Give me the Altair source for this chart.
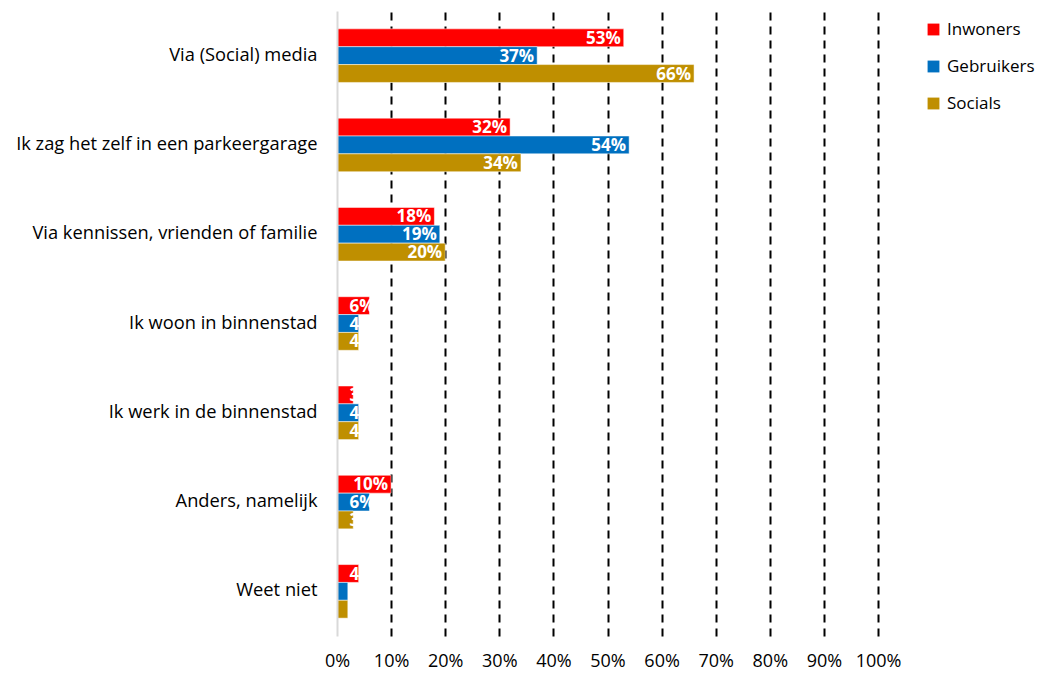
import altair as alt
import pandas as pd

categories = [
    "Via (Social) media",
    "Ik zag het zelf in een parkeergarage",
    "Via kennissen, vrienden of familie",
    "Ik woon in binnenstad",
    "Ik werk in de binnenstad",
    "Anders, namelijk",
    "Weet niet",
]
series = ["Inwoners", "Gebruikers", "Socials"]
inwoners = [53, 32, 18, 6, 3, 10, 4]
gebruikers = [37, 54, 19, 4, 4, 6, 2]
socials = [66, 34, 20, 4, 4, 3, 2]
colors = ["#FF0000", "#0070C0", "#BF8F00"]
x_ticks = [0, 10, 20, 30, 40, 50, 60, 70, 80, 90, 100]

rows = []
for s, vals in zip(series, [inwoners, gebruikers, socials]):
    for c, v in zip(categories, vals):
        rows.append({"categorie": c, "groep": s, "waarde": v})
df = pd.DataFrame(rows)

FONT = "Open Sans"
FS = 18

y_enc = alt.Y(
    "categorie:N",
    sort=categories,
    title=None,
    scale=alt.Scale(paddingInner=0.4, paddingOuter=0.2),
    axis=alt.Axis(
        ticks=False,
        domain=True,
        domainColor="#D9D9D9",
        domainWidth=2,
        labelFontSize=18.3,
        labelFont=FONT,
        labelColor="#000000",
        labelPadding=20,
        labelLimit=400,
        zindex=1,
    ),
)
x_enc = alt.X(
    "waarde:Q",
    title=None,
    scale=alt.Scale(domain=[0, 100], nice=False),
    axis=alt.Axis(
        values=x_ticks,
        labelExpr="datum.value + '%'",
        labelOverlap=False,
        labelFlush=False,
        domain=False,
        ticks=False,
        grid=True,
        gridColor="#000000",
        gridDash=[8, 6],
        gridWidth=2,
        gridOpacity=alt.ExprRef("datum.value == 0 ? 0 : 1"),
        labelFontSize=FS,
        labelFont=FONT,
        labelColor="#000000",
        labelPadding=16,
    ),
)

base = alt.Chart(df).encode(
    y=y_enc,
    yOffset=alt.YOffset("groep:N", sort=series),
)

bars = base.mark_bar(stroke="white", strokeWidth=0.5).encode(
    x=x_enc,
    color=alt.Color(
        "groep:N",
        sort=series,
        scale=alt.Scale(domain=series, range=colors),
        legend=alt.Legend(
            title=None,
            orient="none",
            legendX=588,
            legendY=10,
            symbolType="square",
            symbolSize=140,
            symbolStrokeWidth=0,
            labelFontSize=17,
            labelFont=FONT,
            labelColor="#000000",
            labelLimit=200,
            rowPadding=19,
            labelOffset=5,
        ),
    ),
)

labels = base.transform_calculate(
    pos="max(datum.waarde, 7.5)",
    txt="datum.waarde + '%'",
).mark_text(
    align="right",
    baseline="middle",
    dx=-3,
    dy=1,
    color="white",
    fontWeight="bold",
    fontSize=17,
    font=FONT,
).encode(
    x=alt.X("pos:Q", scale=alt.Scale(domain=[0, 100], nice=False)),
    text="txt:N",
)

chart = (
    alt.layer(bars, labels)
    .properties(
        width=541,
        height=625,
        autosize=alt.AutoSizeParams(type="none"),
        padding={"left": 329, "top": 3, "right": 159, "bottom": 40},
    )
    .configure_view(stroke=None)
)

chart.save("out.html", embed_options={"renderer": "svg", "actions": False})
